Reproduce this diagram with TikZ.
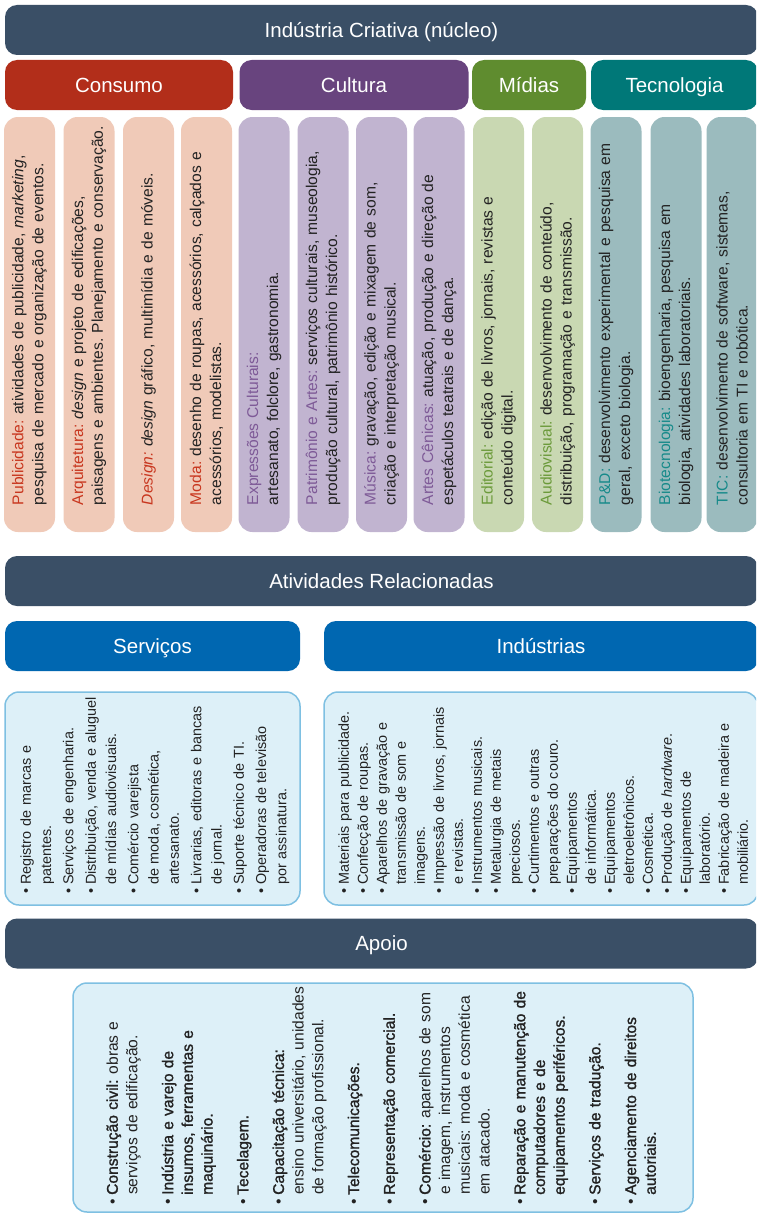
\documentclass[tikz,border=0pt]{standalone}
\usepackage{fontspec}
\setmainfont{Liberation Sans}
\newfontfamily\medfont[FakeBold=1.4]{Liberation Sans}
\newcommand{\med}[1]{{\medfont #1}}
\usepackage{enumitem}
\usepackage{tikz}
\usetikzlibrary{positioning}
\definecolor{barblue}{HTML}{3A4F66}
\definecolor{consred}{HTML}{B22E1A}
\definecolor{cultpurple}{HTML}{68447E}
\definecolor{midgreen}{HTML}{5F8C2F}
\definecolor{tecteal}{HTML}{007878}
\definecolor{conslight}{HTML}{F0CAB8}
\definecolor{cultlight}{HTML}{C1B4D0}
\definecolor{midlight}{HTML}{C9D8B2}
\definecolor{teclight}{HTML}{9BBBBE}
\definecolor{conslab}{HTML}{C8361E}
\definecolor{cultlab}{HTML}{7E5A97}
\definecolor{midlab}{HTML}{6B9A3A}
\definecolor{teclab}{HTML}{178A8A}
\definecolor{servblue}{HTML}{0067B1}
\definecolor{boxfill}{HTML}{DDF0F8}
\definecolor{boxline}{HTML}{7EC0E2}
\definecolor{txtdark}{HTML}{222222}
\setlist[itemize]{label=\textbullet,leftmargin=10pt,labelsep=4pt,topsep=0pt,partopsep=0pt,parsep=0pt,itemsep=0pt}
\frenchspacing

\begin{document}
\begin{tikzpicture}[x=1pt,y=-1pt,
  bar/.style={fill=barblue,text=white,rounded corners=12pt,minimum height=50pt,inner sep=0pt,text height=14.7pt,text depth=0pt,font=\fontsize{20.5}{24}\selectfont},
  colbox/.style={rounded corners=14pt,minimum width=51pt,minimum height=415pt,inner sep=0pt},
  coltext/.style={rotate=90,anchor=west,text width=395pt,align=left,inner sep=0pt,text=txtdark,font=\fontsize{15.6}{20}\selectfont},
  listbox/.style={fill=boxfill,draw=boxline,line width=1.5pt,rounded corners=14pt,inner sep=0pt},
  listtext/.style={rotate=90,anchor=west,inner sep=0pt,text=txtdark}]
\useasboundingbox (0,0) rectangle (756,1215);
\clip (0,0) rectangle (756,1215);
\fill[white] (0,0) rectangle (756,1215);

% nucleo
\node[bar,minimum width=753pt] (core) at (381.5,30) {Indústria Criativa (núcleo)};
\node[bar,fill=consred,minimum width=228pt] (consumo) at (119,85) {Consumo};
\node[bar,fill=cultpurple,minimum width=229pt] (cultura) at (354,85) {Cultura};
\node[bar,fill=midgreen,minimum width=114pt] (midias) at (529,85) {Mídias};
\node[bar,fill=tecteal,minimum width=167pt] (tecno) at (674.5,85) {Tecnologia};

% colunas
\node[colbox,fill=conslight] (pub) at (29.5,324.5) {};
\node[coltext] (pubtxt) at ([yshift=27pt]pub.south) {\textcolor{conslab}{Publicidade:} atividades de publicidade, \textit{marketing},\\pesquisa de mercado e organização de eventos.};
\node[colbox,fill=conslight] (arq) at (89,324.5) {};
\node[coltext] (arqtxt) at ([yshift=27pt]arq.south) {\textcolor{conslab}{Arquitetura:} \textit{design} e projeto de edificações,\\paisagens e ambientes. Planejamento e conservação.};
\node[colbox,fill=conslight] (des) at (148.5,324.5) {};
\node[coltext] (destxt) at ([yshift=27pt]des.south) {\textcolor{conslab}{\textit{Design:}} \textit{design} gráfico, multimídia e de móveis.};
\node[colbox,fill=conslight] (moda) at (206.5,324.5) {};
\node[coltext] (modatxt) at ([yshift=27pt]moda.south) {\textcolor{conslab}{Moda:} desenho de roupas, acessórios, calçados e\\acessórios, modelistas.};
\node[colbox,fill=cultlight] (expr) at (264,324.5) {};
\node[coltext] (exprtxt) at ([yshift=27pt]expr.south) {\textcolor{cultlab}{Expressões Culturais:}\\artesanato, folclore, gastronomia.};
\node[colbox,fill=cultlight] (patr) at (323,324.5) {};
\node[coltext] (patrtxt) at ([yshift=27pt]patr.south) {\textcolor{cultlab}{Patrimônio e Artes:} serviços culturais, museologia,\\produção cultural, patrimônio histórico.};
\node[colbox,fill=cultlight] (mus) at (381.5,324.5) {};
\node[coltext] (mustxt) at ([yshift=27pt]mus.south) {\textcolor{cultlab}{Música:} gravação, edição e mixagem de som,\\criação e interpretação musical.};
\node[colbox,fill=cultlight] (cen) at (439,324.5) {};
\node[coltext] (centxt) at ([yshift=27pt]cen.south) {\textcolor{cultlab}{Artes Cênicas:} atuação, produção e direção de\\espetáculos teatrais e de dança.};
\node[colbox,fill=midlight] (edit) at (498.5,324.5) {};
\node[coltext] (edittxt) at ([yshift=27pt]edit.south) {\textcolor{midlab}{Editorial:} edição de livros, jornais, revistas e\\conteúdo digital.};
\node[colbox,fill=midlight] (audio) at (557.5,324.5) {};
\node[coltext] (audiotxt) at ([yshift=27pt]audio.south) {\textcolor{midlab}{Audiovisual:} desenvolvimento de conteúdo,\\distribuição, programação e transmissão.};
\node[colbox,fill=teclight] (ped) at (616,324.5) {};
\node[coltext] (pedtxt) at ([yshift=27pt]ped.south) {\textcolor{teclab}{P\&D:} desenvolvimento experimental e pesquisa em\\geral, exceto biologia.};
\node[colbox,fill=teclight] (bio) at (676,324.5) {};
\node[coltext] (biotxt) at ([yshift=27pt]bio.south) {\textcolor{teclab}{Biotecnologia:} bioengenharia, pesquisa em\\biologia, atividades laboratoriais.};
\node[colbox,fill=teclight] (tic) at (732,324.5) {};
\node[coltext] (tictxt) at ([yshift=27pt]tic.south) {\textcolor{teclab}{TIC:} desenvolvimento de software, sistemas,\\consultoria em TI e robótica.};

% atividades relacionadas
\node[bar,minimum width=753pt] (rel) at (381.5,581) {Atividades Relacionadas};
\node[bar,fill=servblue,minimum width=295pt] (serv) at (152.5,646) {Serviços};
\node[bar,fill=servblue,minimum width=434pt] (ind) at (541,646) {Indústrias};
\node[listbox,minimum width=295pt,minimum height=213pt] (servbox) at (152.5,798.5) {};
\node[listbox,minimum width=434pt,minimum height=213pt] (indbox) at (541,798.5) {};
\node[listtext,text width=205pt,font=\fontsize{14.4}{20.3}\selectfont] (servlist) at (150,895) {%
\begin{itemize}[itemsep=2pt]
\item Registro de marcas e\\patentes.
\item Serviços de engenharia.
\item Distribuição, venda e aluguel\\de mídias audiovisuais.
\item Comércio varejista\\de moda, cosmética,\\artesanato.
\item Livrarias, editoras e bancas\\de jornal.
\item Suporte técnico de TI.
\item Operadoras de televisão\\por assinatura.
\end{itemize}};
\node[listtext,text width=205pt,font=\fontsize{14.4}{19}\selectfont] (indlist) at (539,895) {%
\begin{itemize}
\item Materiais para publicidade.
\item Confecção de roupas.
\item Aparelhos de gravação e\\transmissão de som e\\imagens.
\item Impressão de livros, jornais\\e revistas.
\item Instrumentos musicais.
\item Metalurgia de metais\\preciosos.
\item Curtimentos e outras\\preparações do couro.
\item Equipamentos\\de informática.
\item Equipamentos\\eletroeletrônicos.
\item Cosmética.
\item Produção de \textit{hardware}.
\item Equipamentos de\\laboratório.
\item Fabricação de madeira e\\mobiliário.
\end{itemize}};

% apoio
\node[bar,minimum width=753pt] (apoio) at (381.5,943.5) {Apoio};
\node[listbox,minimum width=620pt,minimum height=229pt] (apoiobox) at (383,1097.5) {};
\node[listtext,text width=235pt,font=\fontsize{15.6}{19.7}\selectfont] (apoiolist) at (377,1205) {%
\begin{itemize}[itemsep=16pt]
\item \med{Construção civil:} obras e\\serviços de edificação.
\item \med{Indústria e varejo de\\insumos, ferramentas e\\maquinário.}
\item \med{Tecelagem.}
\item \med{Capacitação técnica:}\\ensino universitário, unidades\\de formação profissional.
\item \med{Telecomunicações.}
\item \med{Representação comercial.}
\item \med{Comércio:} aparelhos de som\\e imagem, instrumentos\\musicais: moda e cosmética\\em atacado.
\item \med{Reparação e manutenção de\\computadores e de\\equipamentos periféricos.}
\item \med{Serviços de tradução.}
\item \med{Agenciamento de direitos\\autoriais.}
\end{itemize}};
\end{tikzpicture}
\end{document}
